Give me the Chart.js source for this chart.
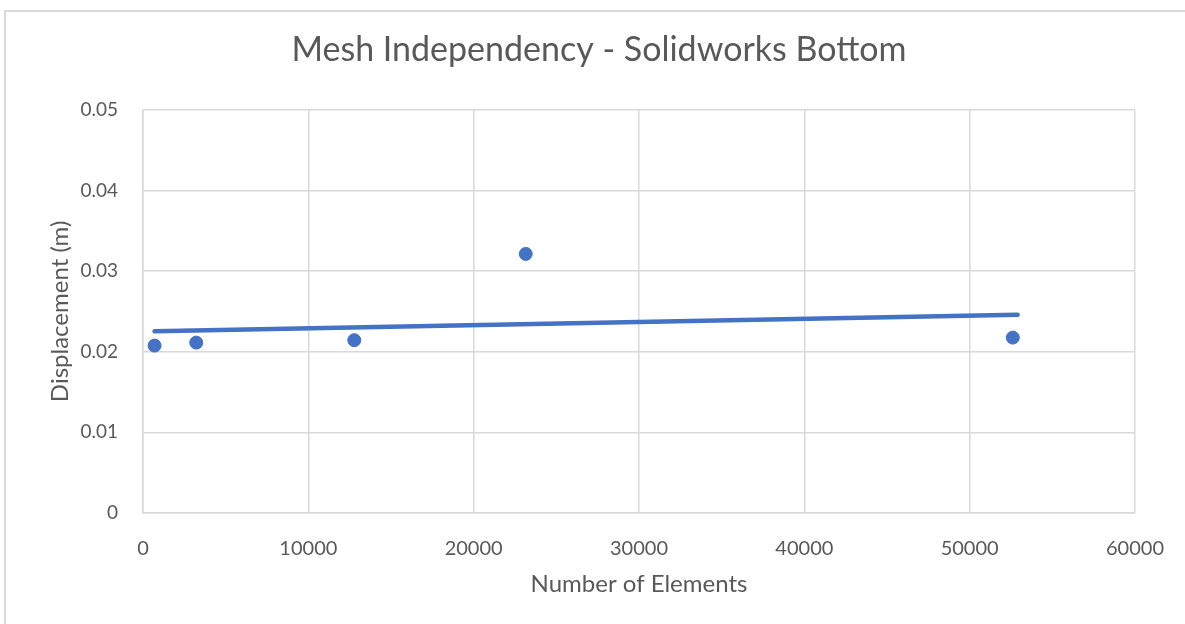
<!DOCTYPE html>
<html lang="en">
<head>
    <meta charset="UTF-8">
    <title>Mesh Independency - Solidworks Bottom</title>
    <script src="https://cdn.jsdelivr.net/npm/chart.js@4.4.0/dist/chart.umd.min.js"></script>
    <style>
        html, body { margin: 0; padding: 0; background: #fff; overflow: hidden; }
        .borda {
            position: absolute; left: 4px; top: 10px; width: 1300px; height: 700px;
            border: 2px solid #d9d9d9; box-sizing: border-box;
        }
        .grafico { position: absolute; left: 0; top: 0; width: 1198px; height: 624px; }
    </style>
</head>
<body>
    <div class="borda"></div>
    <div class="grafico">
        <canvas id="chartMalha"></canvas>
    </div>

<script>
    // dados
    var elementos = [700, 3220, 12780, 23150, 52610];
    var deslocamento = [0.02076, 0.02113, 0.02143, 0.03213, 0.02175];
    // linha de tendencia (inicio e fim)
    var tendenciaX = [700, 52900];
    var tendenciaY = [0.02254, 0.02457];
    var ticksY = [0, 0.01, 0.02, 0.03, 0.04, 0.05];
    var ticksX = [0, 10000, 20000, 30000, 40000, 50000, 60000];

    var azul = '#4472C4';
    var cinza = '#d9d9d9';
    var texto = '#595959';
    var fonte = 'Lato, "Open Sans", sans-serif';

    function carregarGrafico() {
        var pontos = elementos.map(function (x, i) { return { x: x, y: deslocamento[i] }; });
        var linha = tendenciaX.map(function (x, i) { return { x: x, y: tendenciaY[i] }; });

        const config = {
            type: 'scatter',
            data: {
                datasets: [{
                    label: 'Displacement',
                    data: pontos,
                    backgroundColor: azul,
                    borderColor: azul,
                    pointRadius: 6.5,
                    pointHoverRadius: 6.5,
                    order: 1
                }, {
                    label: 'Linear',
                    type: 'line',
                    data: linha,
                    borderColor: azul,
                    borderWidth: 4.5,
                    borderCapStyle: 'round',
                    pointRadius: 0,
                    fill: false,
                    order: 2
                }]
            },
            options: {
                responsive: true,
                maintainAspectRatio: false,
                animation: false,
                layout: { padding: 0 },
                plugins: {
                    legend: { display: false },
                    tooltip: { enabled: false },
                    title: {
                        display: true,
                        text: 'Mesh Independency - Solidworks Bottom',
                        color: texto,
                        font: { family: fonte, size: 34, weight: 'normal' },
                        padding: { top: 30, bottom: 39 }
                    }
                },
                scales: {
                    x: {
                        type: 'linear',
                        min: 0,
                        max: 60000,
                        afterBuildTicks: function (eixo) {
                            eixo.ticks = ticksX.map(function (v) { return { value: v }; });
                        },
                        afterFit: function (eixo) { eixo.height = 111; },
                        grid: { color: cinza, lineWidth: 1.5, drawTicks: false },
                        border: { color: cinza, width: 1.5 },
                        ticks: {
                            color: texto,
                            padding: 24,
                            maxRotation: 0,
                            font: { family: fonte, size: 20 },
                            callback: function (v) { return String(v); }
                        },
                        title: {
                            display: true,
                            text: 'Number of Elements',
                            color: texto,
                            font: { family: fonte, size: 24 },
                            padding: { top: 0, bottom: 25 }
                        }
                    },
                    y: {
                        type: 'linear',
                        min: 0,
                        max: 0.05,
                        afterBuildTicks: function (eixo) {
                            eixo.ticks = ticksY.map(function (v) { return { value: v }; });
                        },
                        afterFit: function (eixo) { eixo.width = 143; },
                        grid: { color: cinza, lineWidth: 1.5, drawTicks: false },
                        border: { color: cinza, width: 1.5 },
                        ticks: {
                            color: texto,
                            padding: 25,
                            font: { family: fonte, size: 19 },
                            callback: function (v) { return v === 0 ? '0' : v.toFixed(2); }
                        },
                        title: {
                            display: true,
                            text: 'Displacement (m)',
                            color: texto,
                            font: { family: fonte, size: 24 },
                            padding: { top: 46, bottom: 0 }
                        }
                    },
                    // eixo vazio a direita so para reservar espaco
                    direita: {
                        type: 'linear',
                        position: 'right',
                        min: 0,
                        max: 0.05,
                        afterFit: function (eixo) { eixo.width = 63; },
                        grid: { drawOnChartArea: false, drawTicks: false },
                        border: { display: false },
                        ticks: { display: false }
                    }
                }
            }
        };

        var grafico = new Chart(document.getElementById('chartMalha'), config);
    }

    carregarGrafico();
</script>
</body>
</html>
